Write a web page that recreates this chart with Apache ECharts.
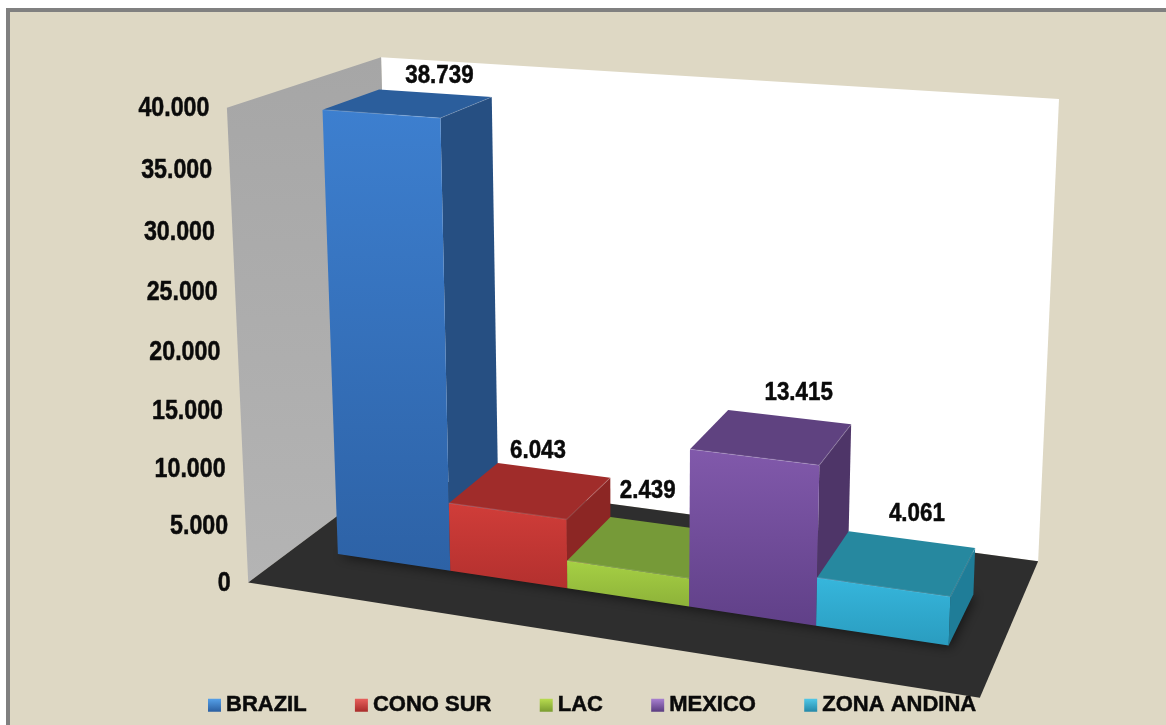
<!DOCTYPE html>
<html>
<head>
<meta charset="utf-8">
<style>html,body{margin:0;padding:0;background:#fff}#chart{width:1166px;height:725px}</style>
<script src="https://cdn.jsdelivr.net/npm/echarts@6/dist/echarts.min.js"></script>
</head>
<body>
<div id="chart"></div>
<script>
// Regional totals, one column per region
const categories = ['BRAZIL', 'CONO SUR', 'LAC', 'MEXICO', 'ZONA ANDINA'];
const values = [38739, 6043, 2439, 13415, 4061];
const valueLabels = ['38.739', '6.043', '2.439', '13.415', '4.061'];
const tickValues = [0, 5000, 10000, 15000, 20000, 25000, 30000, 35000, 40000];
const tickLabels = ['0', '5.000', '10.000', '15.000', '20.000', '25.000', '30.000', '35.000', '40.000'];

// Face colours per column: front (top, bottom of gradient), top, side
const faceColors = [
  { front: ['#3d7fcf', '#2d62a6'], top: '#2b5e9c', side: '#264f82' },
  { front: ['#d03d39', '#b3302e'], top: '#a02c2a', side: '#8c2624' },
  { front: ['#a6d044', '#8db239'], top: '#769a38', side: '#64832f' },
  { front: ['#8159ab', '#604088'], top: '#5f4280', side: '#4e3568' },
  { front: ['#36b6dc', '#2a9cbf'], top: '#26889f', side: '#1f7d98' }
];
const legendIcons = [
  ['#55a0e8', '#2a5ea0'], ['#e8605c', '#a82c2a'], ['#b8dc50', '#7a9c30'],
  ['#a880d0', '#5a3c80'], ['#50c8e8', '#2488a8']
];

// Projection of the unit chart box (x along regions, y up, z into the page)
const boxCalibration = [
  [0, 0, 0, 248, 582], [0, 1, 0, 227, 108],
  [0, 0, 1, 393, 475], [0, 1, 1, 381, 57],
  [1, 0, 1, 1038, 561], [1, 1, 1, 1059, 99],
  [1, 0, 0, 980, 698]
];
// Extent of the columns inside the box
const columnsX = [0.068, 0.936];
const columnsZ = [0.295, 0.675];
// Hand placement of the value labels relative to the back of each column top
const labelNudge = [[4, -17], [-16, -19], [-21, -34], [9, -24], [5, -26]];

function solveCamera(points) {
  const rows = [], rhs = [];
  points.forEach(([X, Y, Z, u, v]) => {
    rows.push([X, Y, Z, 1, 0, 0, 0, 0, -u * X, -u * Y, -u * Z]); rhs.push(u);
    rows.push([0, 0, 0, 0, X, Y, Z, 1, -v * X, -v * Y, -v * Z]); rhs.push(v);
  });
  const n = 11;
  const m = [];
  for (let i = 0; i < n; i++) {
    m.push(new Array(n + 1).fill(0));
    for (let j = 0; j < n; j++) rows.forEach(r => { m[i][j] += r[i] * r[j]; });
    rows.forEach((r, k) => { m[i][n] += r[i] * rhs[k]; });
  }
  for (let c = 0; c < n; c++) {
    let best = c;
    for (let r = c + 1; r < n; r++) if (Math.abs(m[r][c]) > Math.abs(m[best][c])) best = r;
    [m[c], m[best]] = [m[best], m[c]];
    for (let r = 0; r < n; r++) {
      if (r === c) continue;
      const f = m[r][c] / m[c][c];
      for (let k = c; k <= n; k++) m[r][k] -= f * m[c][k];
    }
  }
  return m.map((row, i) => row[n] / row[i]);
}
const cam = solveCamera(boxCalibration);
function project(X, Y, Z) {
  const w = cam[8] * X + cam[9] * Y + cam[10] * Z + 1;
  return [(cam[0] * X + cam[1] * Y + cam[2] * Z + cam[3]) / w,
          (cam[4] * X + cam[5] * Y + cam[6] * Z + cam[7]) / w];
}

const FONT = '"Liberation Sans",Arial,sans-serif';
const vertical = (a, b) => ({ type: 'linear', x: 0, y: 0, x2: 0, y2: 1,
  colorStops: [{ offset: 0, color: a }, { offset: 1, color: b }] });
const poly = (points, fill) => ({ type: 'polygon', shape: { points }, style: { fill } });
// Bold text squeezed horizontally to get the condensed look of the labels
const narrowText = (text, x, y, align, size) => ({
  type: 'text', x, y, scaleX: 0.86,
  style: { text, x: 0, y: 0, align, verticalAlign: 'middle', fill: '#0a0a0a',
    stroke: '#0a0a0a', lineWidth: 0.5,
    fontFamily: FONT, fontWeight: 'bold', fontSize: size }
});

function renderWalls() {
  const p = project;
  const [xa, xb] = columnsX, [za, zb] = columnsZ;
  return { type: 'group', children: [
    poly([p(0, 1, 1), p(1, 1, 1), p(1, 0, 1), p(0, 0, 1)], '#ffffff'),
    poly([p(0, 1, 0), p(0, 1, 1), p(0, 0, 1), p(0, 0, 0)], vertical('#a6a6a6', '#b4b4b4')),
    poly([p(0, 0, 0), p(0, 0, 1), p(1, 0, 1), p(1, 0, 0)], '#2e2e2e'),
    // soft contact shadow under the row of columns
    { type: 'polygon', shape: { points: [p(xa, 0, za), p(xa, 0, zb), p(xb, 0, zb), p(xb, 0, za)] },
      style: { fill: '#1f1f1f', shadowBlur: 12, shadowColor: 'rgba(0,0,0,0.55)', shadowOffsetX: 2, shadowOffsetY: 2 } }
  ] };
}

function renderTick(params, api) {
  const g = params.coordSys;
  const c = api.coord([0, api.value(0)]);
  const y = (g.y + g.height - c[1]) / g.height;
  const pt = project(0, y, 0);
  return narrowText(tickLabels[params.dataIndex], pt[0] - 17.5, pt[1] + 1, 'right', 27);
}

// Column bounds in box units, taken from the chart's own category and value axes
function columnBox(params, api) {
  const g = params.coordSys;
  const c = api.coord([api.value(0), api.value(1)]);
  const half = api.size([1, 0])[0] / 2;
  const span = columnsX[1] - columnsX[0];
  return {
    x0: columnsX[0] + span * (c[0] - half - g.x) / g.width,
    x1: columnsX[0] + span * (c[0] + half - g.x) / g.width,
    h: (g.y + g.height - c[1]) / g.height,
    z0: columnsZ[0], z1: columnsZ[1]
  };
}

function renderColumn(index) {
  return function (params, api) {
    const { x0, x1, h, z0, z1 } = columnBox(params, api);
    const p = project;
    const col = faceColors[index];
    const edge = (a, b) => ({ type: 'polyline', shape: { points: [a, b] },
      style: { fill: null, stroke: 'rgba(255,255,255,0.14)', lineWidth: 1.2 } });
    return { type: 'group', children: [
      poly([p(x0, h, z0), p(x0, h, z1), p(x1, h, z1), p(x1, h, z0)], col.top),
      poly([p(x1, h, z0), p(x1, h, z1), p(x1, 0, z1), p(x1, 0, z0)], col.side),
      poly([p(x0, h, z0), p(x1, h, z0), p(x1, 0, z0), p(x0, 0, z0)], vertical(col.front[0], col.front[1])),
      edge(p(x0, h, z0), p(x1, h, z0)),
      edge(p(x1, h, z0), p(x1, h, z1))
    ] };
  };
}

function renderValueLabel(params, api) {
  const { x0, x1, h, z1 } = columnBox(params, api);
  const a = project(x0, h, z1), b = project(x1, h, z1);
  const i = params.dataIndex;
  return narrowText(valueLabels[i], (a[0] + b[0]) / 2 + labelNudge[i][0], (a[1] + b[1]) / 2 + labelNudge[i][1], 'center', 26);
}

const series = [
  { type: 'custom', name: 'walls', silent: true, renderItem: renderWalls, data: [[0, 0]], z: 1 },
  { type: 'custom', name: 'ticks', silent: true, renderItem: renderTick, data: tickValues.map(v => [v]),
    encode: { y: 0 }, z: 1 }
].concat(categories.map((name, i) => ({
  type: 'custom', name, silent: true, z: 2 + i,
  itemStyle: { color: faceColors[i].front[0] },
  encode: { x: 0, y: 1 },
  renderItem: renderColumn(i),
  data: [[i, values[i]]]
})), [{
  type: 'custom', name: 'values', silent: true, z: 20,
  encode: { x: 0, y: 1 },
  renderItem: renderValueLabel,
  data: values.map((v, i) => [i, v])
}]);

const chart = echarts.init(document.getElementById('chart'));
chart.setOption({
  animation: false,
  backgroundColor: '#ffffff',
  graphic: { elements: [{
    type: 'rect', z: -1, silent: true,
    shape: { x: 8, y: 10, width: 1180, height: 740 },
    style: { fill: '#ded8c4', stroke: '#808080', lineWidth: 4 }
  }] },
  grid: { left: 100, right: 100, top: 100, bottom: 100 },
  xAxis: { type: 'category', data: categories, show: false },
  yAxis: { type: 'value', min: 0, max: 40000, interval: 5000, show: false },
  legend: {
    left: 208, top: 694, padding: 0, itemWidth: 13, itemHeight: 13, itemGap: 48, selectedMode: false,
    textStyle: { fontFamily: FONT, fontWeight: 'bold', fontSize: 22, color: '#0a0a0a',
      textBorderColor: '#0a0a0a', textBorderWidth: 0.5, padding: [0, 0, 0, 0] },
    data: categories.map((name, i) => ({
      name, icon: 'rect',
      itemStyle: { color: vertical(legendIcons[i][0], legendIcons[i][1]) }
    }))
  },
  series
});
</script>
</body>
</html>
